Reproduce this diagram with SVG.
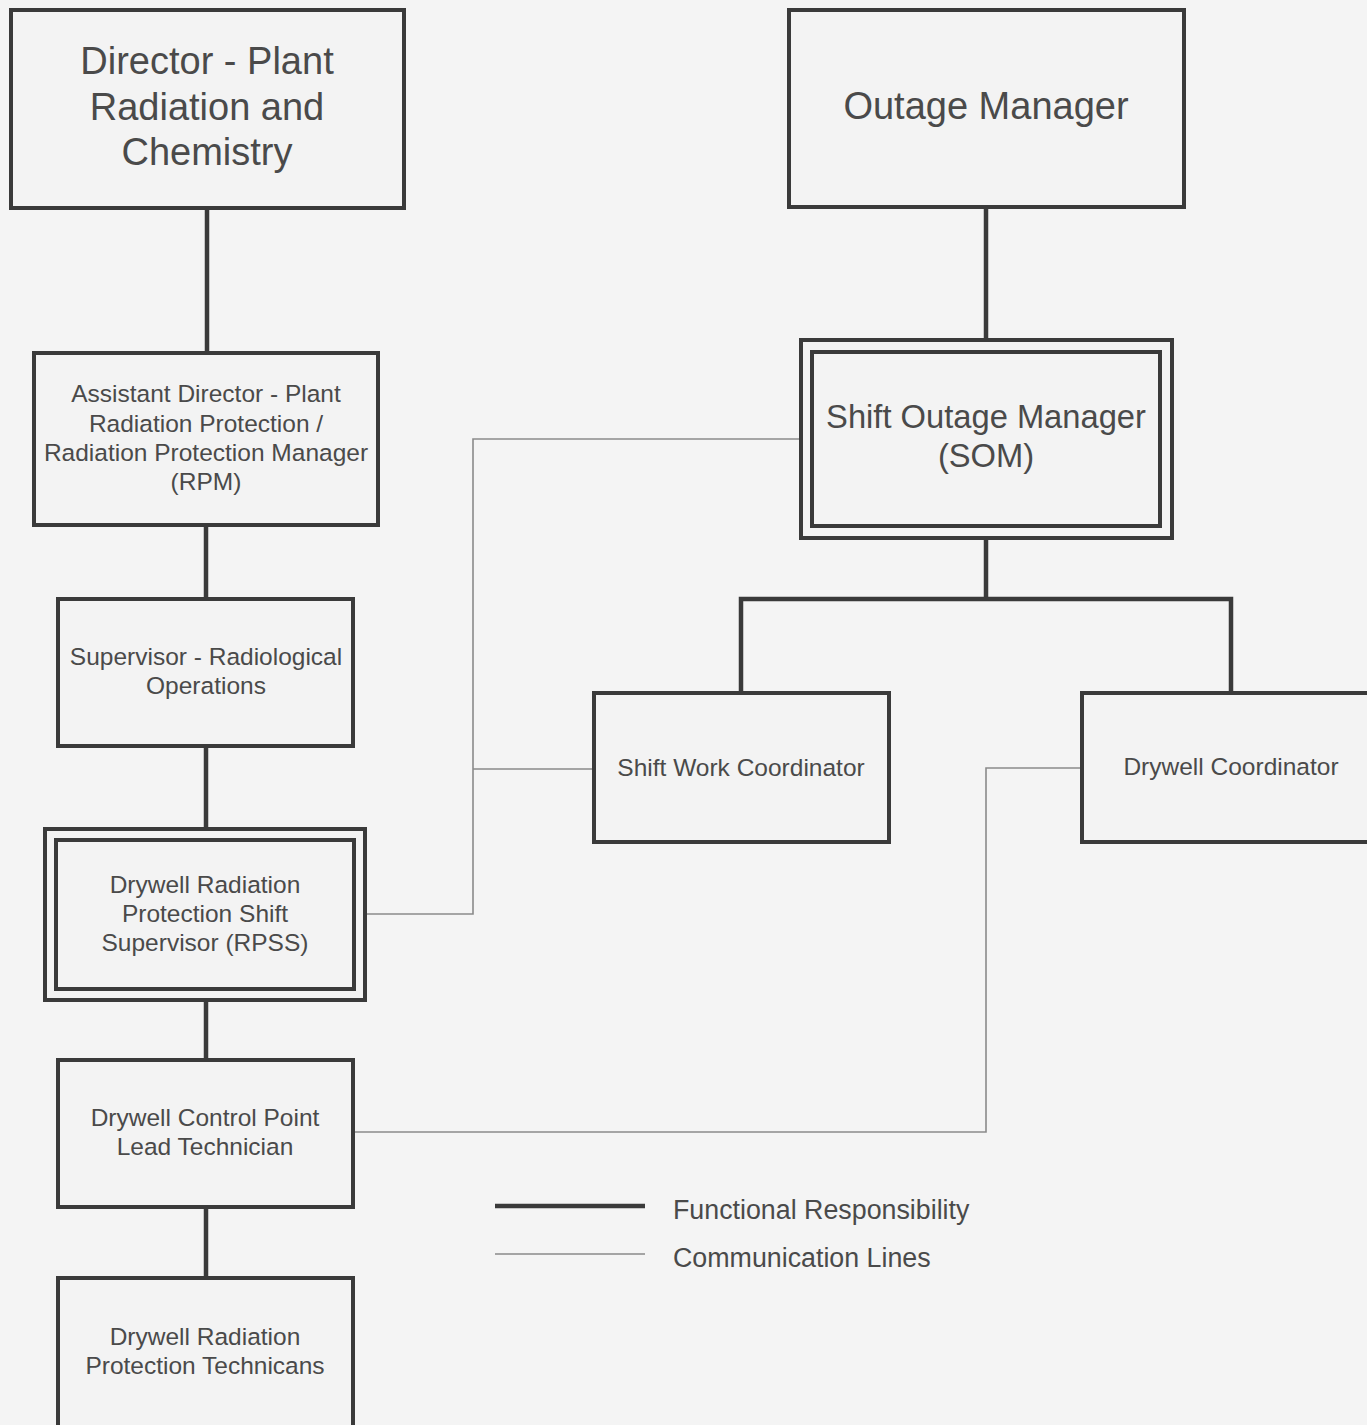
<svg xmlns="http://www.w3.org/2000/svg" width="1367" height="1425" viewBox="0 0 1367 1425">
<style>
.box{fill:#f3f3f3;stroke:#3a3a3a;stroke-width:4}
.func{stroke:#3a3a3a;stroke-width:4.5;fill:none}
.comm{stroke:#8a8a8a;stroke-width:1.6;fill:none}
text{font-family:"Liberation Sans",Arial,sans-serif;fill:#4a4a4a;text-anchor:middle}
.big{font-size:38px}
.mid{font-size:32.7px}
.sm{font-size:24.5px}
.leg{font-size:26.8px;text-anchor:start}
</style>
<rect width="1367" height="1425" fill="#f4f4f4"/>
<g id="connectors">
<line class="func" x1="207" y1="208" x2="207" y2="353"/>
<line class="func" x1="986" y1="207" x2="986" y2="340"/>
<line class="func" x1="206" y1="525" x2="206" y2="599"/>
<line class="func" x1="206" y1="746" x2="206" y2="829"/>
<line class="func" x1="206" y1="1000" x2="206" y2="1060"/>
<line class="func" x1="206" y1="1207" x2="206" y2="1278"/>
<line class="func" x1="986" y1="538" x2="986" y2="599"/>
<polyline class="func" points="741,693 741,599 1231,599 1231,693"/>
<polyline class="comm" points="801,439 473,439 473,914 365,914"/>
<line class="comm" x1="473" y1="769" x2="594" y2="769"/>
<polyline class="comm" points="1082,768 986,768 986,1132 353,1132"/>
</g>
<g id="director">
<rect class="box" x="11" y="10" width="393" height="198"/>
<text class="big" x="207" y="74">Director - Plant</text>
<text class="big" x="207" y="120">Radiation and</text>
<text class="big" x="207" y="165">Chemistry</text>
</g>
<g id="outage-manager">
<rect class="box" x="789" y="10" width="395" height="197"/>
<text class="big" x="986" y="119">Outage Manager</text>
</g>
<g id="assistant-director">
<rect class="box" x="34" y="353" width="344" height="172"/>
<text class="sm" x="206" y="402">Assistant Director - Plant</text>
<text class="sm" x="206" y="432">Radiation Protection /</text>
<text class="sm" x="206" y="461">Radiation Protection Manager</text>
<text class="sm" x="206" y="490">(RPM)</text>
</g>
<g id="som">
<rect class="box" x="801" y="340" width="371" height="198"/>
<rect class="box" x="812" y="352" width="348" height="174"/>
<text class="mid" x="986" y="428">Shift Outage Manager</text>
<text class="mid" x="986" y="467">(SOM)</text>
</g>
<g id="supervisor">
<rect class="box" x="58" y="599" width="295" height="147"/>
<text class="sm" x="206" y="665">Supervisor - Radiological</text>
<text class="sm" x="206" y="694">Operations</text>
</g>
<g id="rpss">
<rect class="box" x="45" y="829" width="320" height="171"/>
<rect class="box" x="56" y="840" width="298" height="149"/>
<text class="sm" x="205" y="893">Drywell Radiation</text>
<text class="sm" x="205" y="922">Protection Shift</text>
<text class="sm" x="205" y="951">Supervisor (RPSS)</text>
</g>
<g id="control-point">
<rect class="box" x="58" y="1060" width="295" height="147"/>
<text class="sm" x="205" y="1126">Drywell Control Point</text>
<text class="sm" x="205" y="1155">Lead Technician</text>
</g>
<g id="technicians">
<rect class="box" x="58" y="1278" width="295" height="160"/>
<text class="sm" x="205" y="1345">Drywell Radiation</text>
<text class="sm" x="205" y="1374">Protection Technicans</text>
</g>
<g id="shift-work">
<rect class="box" x="594" y="693" width="295" height="149"/>
<text class="sm" x="741" y="776">Shift Work Coordinator</text>
</g>
<g id="drywell-coord">
<rect class="box" x="1082" y="693" width="300" height="149"/>
<text class="sm" x="1231" y="775">Drywell Coordinator</text>
</g>
<g id="legend">
<line class="func" x1="495" y1="1206" x2="645" y2="1206"/>
<line class="comm" x1="495" y1="1254" x2="645" y2="1254"/>
<text class="leg" x="673" y="1219">Functional Responsibility</text>
<text class="leg" x="673" y="1267">Communication Lines</text>
</g>
</svg>
